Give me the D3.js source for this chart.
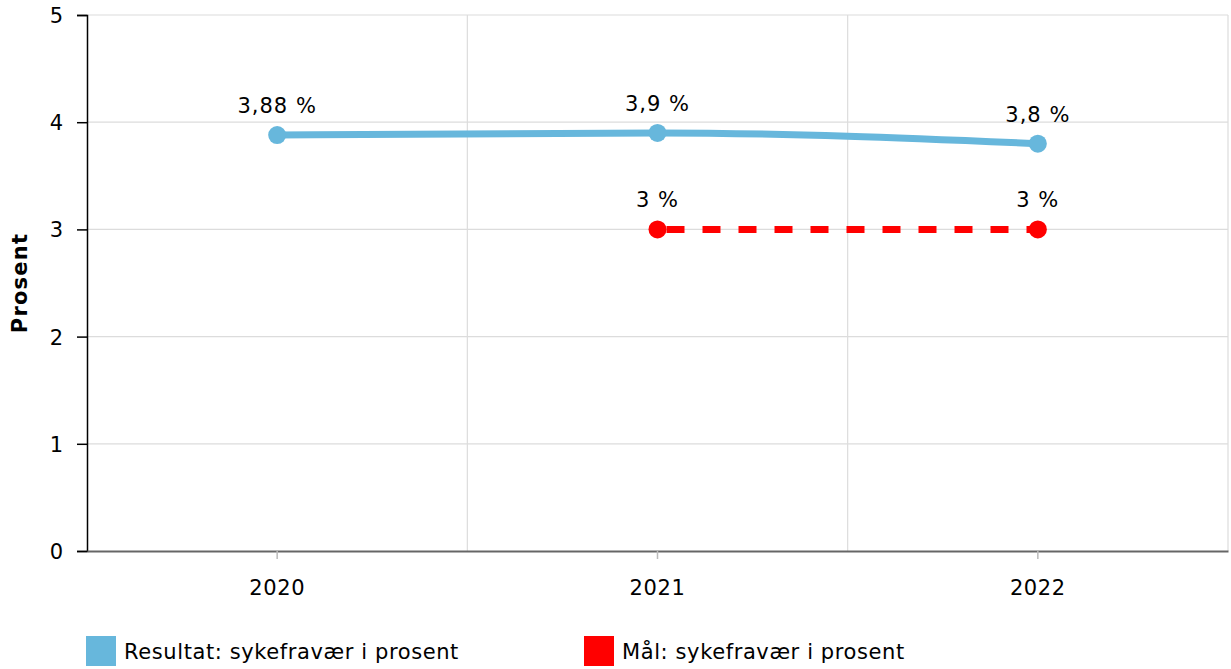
<!DOCTYPE html>
<html><head><meta charset="utf-8">
<script src="https://cdn.jsdelivr.net/npm/d3@7"></script>
<style>body{margin:0;background:#fff}svg{display:block;font-family:"DejaVu Sans",Verdana,sans-serif}</style>
</head><body><svg id="c" width="1231" height="669"></svg>
<script>
const categories = ["2020","2021","2022"];
const resultat = [3.88, 3.9, 3.8];
const resultatLabels = ["3,88 %","3,9 %","3,8 %"];
const maal = [null, 3, 3];
const maalLabels = [null, "3 %", "3 %"];
const yTicks = [0,1,2,3,4,5];
const seriesNames = ["Resultat: sykefravær i prosent","Mål: sykefravær i prosent"];
const colors = ["#67b7dc","#ff0000"];

const FS = 21, LS = 0.6;
const svg = d3.select("#c");
const m = {l:87, r:1228, t:15, b:551};
const x = d3.scaleBand().domain(categories).range([m.l, m.r]);
const cx = d => x(d) + x.bandwidth()/2;
const y = d3.scaleLinear().domain([0,5]).range([m.b, m.t]);

// grid
const g = svg.append("g");
g.selectAll(".hg").data(yTicks.filter(t=>t>0)).join("line")
  .attr("x1", m.l).attr("x2", m.r).attr("y1", d=>y(d)).attr("y2", d=>y(d))
  .attr("stroke","#dcdcdc").attr("stroke-width",1.2);
const vb = categories.slice(1).map(c=>x(c)).concat([m.r]);
g.selectAll(".vg").data(vb).join("line")
  .attr("x1", d=>d).attr("x2", d=>d).attr("y1", m.t).attr("y2", m.b)
  .attr("stroke","#dcdcdc").attr("stroke-width",1.2);

// y axis
const ya = svg.append("g").attr("transform",`translate(${m.l},0)`)
  .call(d3.axisLeft(y).tickValues(yTicks).tickSize(10).tickPadding(14).tickFormat(d3.format("d")));
ya.select(".domain").attr("stroke","#000").attr("stroke-width",1.5);
ya.selectAll(".tick line").attr("stroke","#000").attr("stroke-width",1.5);
ya.selectAll("text").attr("font-size",FS).attr("fill","#000").attr("font-family","DejaVu Sans, sans-serif").attr("dy","0.36em");

// x axis
const xa = svg.append("g").attr("transform",`translate(0,${m.b})`)
  .call(d3.axisBottom(x).tickSize(8).tickSizeOuter(0));
xa.select(".domain").attr("stroke","#666").attr("stroke-width",2);
xa.selectAll(".tick line").attr("stroke","#bbb").attr("stroke-width",1.5);
xa.selectAll("text").attr("font-size",FS).attr("fill","#000").attr("font-family","DejaVu Sans, sans-serif")
  .attr("y",44).attr("dy",0).attr("letter-spacing",LS);

// y title
svg.append("text").attr("transform",`translate(27,${(m.t+m.b)/2+0}) rotate(-90)`)
  .attr("text-anchor","middle").attr("font-size",21).attr("font-weight","bold").attr("letter-spacing",1.2).text("Prosent");

// series
const line = d3.line().defined(d=>d[1]!=null).x(d=>cx(d[0])).y(d=>y(d[1])).curve(d3.curveMonotoneX);
const r = categories.map((c,i)=>[c,resultat[i],resultatLabels[i]]);
const mm = categories.map((c,i)=>[c,maal[i],maalLabels[i]]);

svg.append("path").datum(r).attr("d",line).attr("fill","none").attr("stroke",colors[0]).attr("stroke-width",7);
svg.append("path").datum(mm.filter(d=>d[1]!=null)).attr("d",line).attr("fill","none").attr("stroke",colors[1])
  .attr("stroke-width",7).attr("stroke-dasharray","18,18").attr("stroke-dashoffset",-9);

[[r,colors[0]],[mm,colors[1]]].forEach(([data,col])=>{
  const d2 = data.filter(d=>d[1]!=null);
  svg.append("g").selectAll("circle").data(d2).join("circle")
    .attr("cx",d=>cx(d[0])).attr("cy",d=>y(d[1])).attr("r",9).attr("fill",col);
  svg.append("g").selectAll("text").data(d2).join("text")
    .attr("x",d=>cx(d[0])).attr("y",d=>y(d[1])-22).attr("text-anchor","middle")
    .attr("font-size",FS).attr("letter-spacing",1).attr("fill","#000").text(d=>d[2]);
});

// legend
const lx = [86, 584];
const lg = svg.append("g").selectAll("g").data(seriesNames).join("g")
  .attr("transform",(d,i)=>`translate(${lx[i]},636)`);
lg.append("rect").attr("width",30).attr("height",30).attr("fill",(d,i)=>colors[i]);
lg.append("text").attr("x",38).attr("y",23).attr("font-size",FS).attr("letter-spacing",LS).attr("fill","#000").text(d=>d);
</script></body></html>
